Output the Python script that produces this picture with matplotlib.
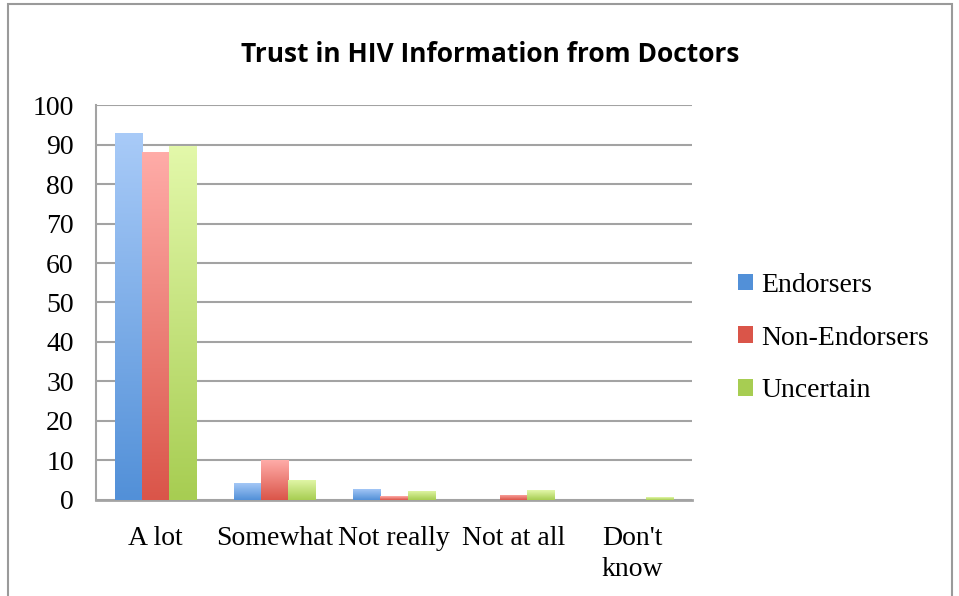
import matplotlib.pyplot as plt
import numpy as np
from matplotlib.colors import LinearSegmentedColormap
from matplotlib.patches import Rectangle

# Survey responses (%) by group
categories = ['A lot', 'Somewhat', 'Not really', 'Not at all', "Don't\nknow"]
endorsers = [93, 4.4, 2.8, 0, 0]
non_endorsers = [88, 10, 1.0, 1.3, 0]
uncertain = [89.6, 5.1, 2.3, 2.5, 0.7]
series_names = ['Endorsers', 'Non-Endorsers', 'Uncertain']

# light (top) -> dark (bottom) gradient for each series
shades = [('#a9cbf8', '#5290d8'), ('#ffaca8', '#da5549'), ('#e3f8aa', '#a7cd52')]

serif = 'Liberation Serif'
fs = 20

fig = plt.figure(figsize=(9.59, 5.96), dpi=100)
ax = fig.add_axes([0.1001, 0.1611, 0.6215, 0.6627])

x = np.arange(len(categories))
width = 0.229
grad = np.linspace(0, 1, 256).reshape(-1, 1)

for i, (vals, name, (light, dark)) in enumerate(zip([endorsers, non_endorsers, uncertain], series_names, shades)):
    cmap = LinearSegmentedColormap.from_list(name, [dark, light])
    xs = x + (i - 1) * width
    bars = ax.bar(xs, vals, width, color=light, label=name, zorder=2, linewidth=0)
    for b in bars:
        h = b.get_height()
        if h <= 0:
            continue
        im = ax.imshow(grad, cmap=cmap, aspect='auto', origin='lower',
                       extent=[b.get_x(), b.get_x() + b.get_width(), 0, h], zorder=3)
        im.set_clip_path(b)

ax.set_xlim(-0.5, len(categories) - 0.5)
ax.set_ylim(0, 100)
ax.set_yticks(range(0, 101, 10))
ax.set_xticks(x)
ax.set_xticklabels(categories, fontfamily=serif, fontsize=fs, linespacing=1.27)
for lab in ax.get_yticklabels():
    lab.set_fontfamily(serif)
    lab.set_fontsize(fs)

ax.yaxis.grid(True, color='#a3a3a3', linewidth=1.5, zorder=0)
ax.set_axisbelow(True)
for side in ['top', 'right']:
    ax.spines[side].set_visible(False)
ax.spines['left'].set_color('#a3a3a3')
ax.spines['left'].set_linewidth(1.5)
ax.spines['bottom'].set_color('#a3a3a3')
ax.spines['bottom'].set_linewidth(2)
ax.tick_params(axis='both', length=0, colors='black')
ax.tick_params(axis='x', pad=19)
ax.tick_params(axis='y', pad=16)

ax.set_title('Trust in HIV Information from Doctors', fontsize=19, fontweight='bold',
             fontfamily='Open Sans', pad=31, x=0.661)

leg = ax.legend(loc='center left', bbox_to_anchor=(1.035, 0.41), frameon=False,
                prop={'family': serif, 'size': fs}, handlelength=0.55, handleheight=0.55,
                handletextpad=0.3, labelspacing=1.0)
for h, (light, dark) in zip(leg.legend_handles, shades):
    h.set_facecolor(dark)

# outer chart border
fig.patches.append(Rectangle((8 / 959, -0.01), 944 / 959, 1.01 - 4 / 596, transform=fig.transFigure,
                             fill=False, edgecolor='#9a9a9a', linewidth=1.5))

fig.savefig('out.png', dpi=100)
